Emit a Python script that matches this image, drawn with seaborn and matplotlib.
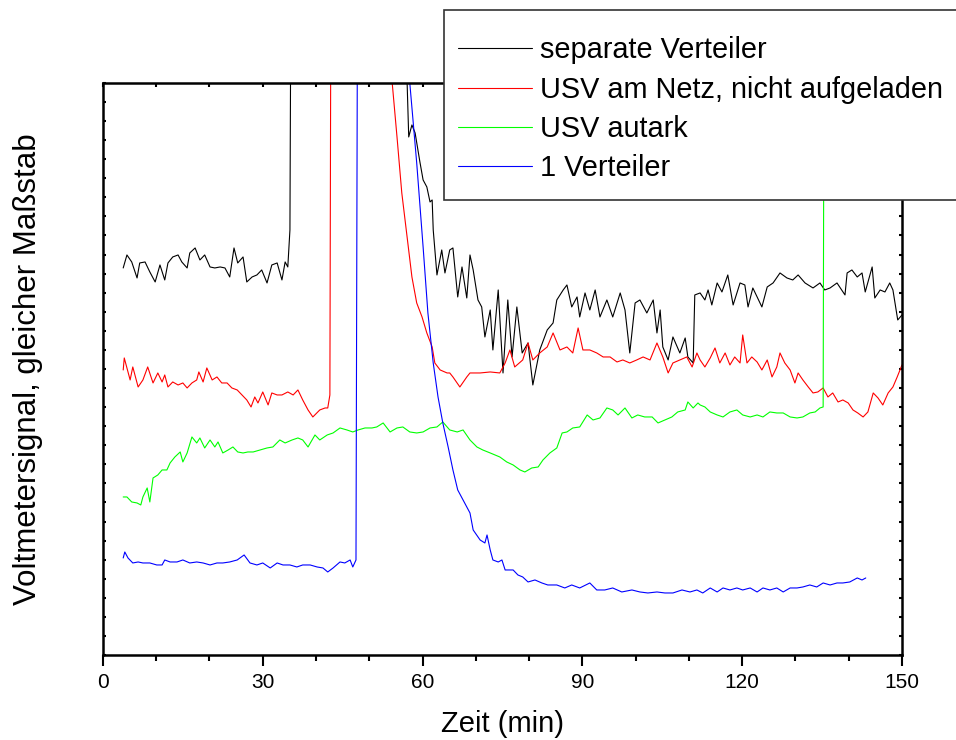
import numpy as np
import pandas as pd
import matplotlib
matplotlib.use("Agg")
import matplotlib.pyplot as plt
from matplotlib.patches import Rectangle
import seaborn as sns

# Zeit in Minuten und Voltmetersignal (willkürliche Einheiten, gleicher Maßstab)
t_sep = [3.8, 4.5, 5.4, 6.4, 6.9, 7.9, 8.8, 9.8, 10.7, 11.6, 12.2, 13.1, 14.1, 14.8, 15.8,
         16.3, 17.3, 18.2, 19.1, 20.1, 21.0, 22.0, 22.9, 23.8, 24.6, 25.3, 26.3, 27.0, 28.0,
         28.9, 29.8, 30.8, 31.7, 32.7, 33.6, 34.2, 34.7, 35.1, 35.3, 56.9, 57.1, 57.4, 58.0,
         58.6, 59.5, 60.1, 60.8, 61.4, 61.8, 62.0, 62.7, 63.6, 64.2, 65.1, 65.7, 66.6, 67.4,
         68.3, 68.9, 69.5, 70.4, 71.1, 71.7, 72.7, 73.2, 74.2, 75.1, 76.0, 76.8, 77.7, 78.7,
         79.8, 80.7, 82.0, 83.4, 84.5, 85.2, 86.4, 87.1, 88.0, 89.0, 89.5, 90.5, 91.4, 92.4,
         93.3, 94.6, 95.7, 97.1, 98.0, 98.9, 99.9, 100.8, 102.1, 103.3, 104.0, 104.6, 105.1,
         106.1, 107.0, 108.3, 109.3, 109.8, 110.8, 111.1, 112.1, 113.0, 113.6, 114.3, 115.3,
         116.2, 117.3, 118.3, 119.6, 120.5, 121.1, 122.0, 123.7, 124.7, 125.8, 127.1, 128.4,
         129.5, 130.5, 131.8, 133.3, 134.6, 135.5, 136.5, 137.8, 139.3, 139.7, 140.6, 141.6,
         142.5, 143.1, 144.4, 144.9, 145.9, 146.8, 147.7, 148.3, 149.2, 150.0]
v_sep = [387, 400, 393, 377, 392, 393, 383, 373, 390, 375, 392, 398, 400, 393, 387,
         402, 407, 395, 400, 388, 387, 388, 387, 378, 407, 392, 398, 373, 378,
         380, 385, 372, 390, 392, 375, 393, 388, 425, 700, 700, 572, 518, 530,
         522, 493, 475, 468, 453, 455, 425, 380, 405, 382, 405, 407, 358, 388,
         357, 400, 385, 355, 348, 318, 345, 305, 365, 282, 355, 298, 348, 302,
         312, 270, 305, 325, 332, 355, 365, 370, 348, 358, 338, 362, 345, 365,
         338, 355, 338, 362, 345, 302, 352, 355, 342, 355, 322, 345, 308,
         295, 318, 302, 317, 298, 292, 360, 362, 355, 365, 350, 372,
         363, 380, 350, 372, 370, 348, 367, 348, 368, 372, 382, 377,
         375, 380, 372, 367, 372, 365, 367, 372, 360, 382, 385, 378,
         382, 363, 388, 357, 365, 363, 372, 365, 335, 340]

t_netz = [3.8, 4.0, 4.5, 5.1, 5.6, 6.6, 7.5, 8.4, 9.4, 10.3, 11.1, 11.6, 12.2, 13.1, 14.1,
          15.0, 15.8, 16.7, 17.6, 18.0, 18.8, 19.5, 20.5, 21.4, 22.3, 23.3, 24.2, 25.2, 26.1,
          27.0, 27.8, 28.5, 29.1, 30.0, 31.0, 31.7, 32.7, 33.6, 34.7, 35.7, 36.6, 37.5, 38.5,
          39.4, 40.7, 41.7, 42.2, 42.6, 42.8, 54.1, 54.3, 55.2, 56.1, 57.1, 58.0, 58.9, 59.9,
          60.8, 61.8, 62.3, 63.3, 64.6, 65.1, 65.7, 67.0, 68.3, 68.9, 70.8, 72.7, 74.5, 75.5,
          76.4, 77.3, 78.8, 79.8, 80.7, 82.0, 83.4, 84.5, 85.8, 87.1, 88.2, 89.2, 90.1, 91.4,
          92.7, 93.9, 95.2, 96.5, 97.6, 98.9, 100.2, 101.4, 102.7, 104.0, 105.1, 106.1, 107.0,
          108.3, 109.6, 110.6, 111.5, 112.1, 113.0, 114.0, 114.9, 115.8, 116.8, 117.7, 118.6,
          119.6, 120.1, 120.9, 121.8, 122.8, 123.7, 124.7, 125.6, 126.5, 127.1, 128.0, 129.0,
          129.9, 130.5, 131.4, 132.4, 133.3, 134.2, 135.2, 136.1, 137.0, 138.0, 138.9, 139.9,
          140.8, 141.7, 142.7, 143.6, 144.6, 145.5, 146.4, 147.4, 148.3, 149.1, 150.0]
v_netz = [285, 297, 287, 275, 288, 268, 275, 288, 272, 282, 273, 280, 268, 273, 270,
          272, 267, 272, 275, 283, 273, 287, 275, 278, 272, 272, 267, 265, 260,
          255, 248, 258, 252, 263, 250, 262, 260, 260, 263, 260, 265, 255, 245,
          238, 245, 247, 247, 260, 700, 700, 572, 518, 462, 418, 378, 352, 338,
          322, 308, 292, 285, 282, 282, 278, 268, 278, 282, 282, 283, 282, 292,
          305, 288, 295, 312, 295, 302, 308, 322, 305, 308, 302, 327, 305, 305,
          302, 298, 298, 293, 295, 292, 295, 298, 295, 312, 298, 282, 292,
          295, 298, 288, 302, 295, 288, 297, 307, 292, 302, 290, 298,
          292, 320, 292, 298, 293, 285, 295, 278, 288, 302, 292, 285,
          272, 282, 275, 268, 262, 263, 267, 258, 262, 253, 255, 252,
          245, 242, 238, 243, 262, 257, 250, 262, 268, 278, 290]

t_autark = [3.8, 4.5, 5.4, 6.4, 7.1, 7.5, 8.3, 8.8, 9.4, 10.3, 11.1, 12.0, 12.6, 13.5, 14.5,
            15.0, 15.8, 16.7, 17.6, 18.2, 19.1, 20.1, 21.0, 21.6, 22.5, 23.5, 24.4, 25.3,
            26.3, 27.2, 28.2, 29.5, 30.8, 31.9, 33.2, 34.2, 35.5, 36.6, 37.5, 38.5, 39.8,
            40.7, 42.1, 43.2, 44.5, 45.8, 46.9, 47.9, 49.2, 50.5, 51.4, 52.6, 53.9, 55.2,
            56.3, 57.6, 58.9, 60.1, 61.4, 62.7, 63.8, 65.1, 66.5, 67.6, 68.9, 70.2, 71.3,
            72.7, 74.5, 75.8, 77.0, 78.3, 79.2, 80.5, 81.7, 82.6, 83.9, 85.2, 86.2, 87.1,
            88.2, 89.5, 90.9, 92.0, 93.3, 94.6, 95.7, 96.7, 98.0, 99.3, 100.4, 101.7, 103.1,
            104.2, 105.5, 106.8, 107.9, 109.3, 109.8, 110.8, 111.7, 112.1, 113.0, 114.0,
            115.3, 116.4, 117.7, 119.0, 120.1, 121.5, 122.8, 123.9, 125.2, 126.5, 127.7,
            129.0, 130.3, 131.4, 132.7, 133.7, 134.6, 135.2, 135.4]
v_autark = [158, 158, 153, 152, 150, 158, 167, 153, 177, 180, 185, 185, 192, 198, 203,
            193, 202, 218, 212, 217, 207, 215, 208, 213, 202, 205, 208, 203,
            202, 203, 203, 205, 207, 208, 215, 212, 215, 217, 215, 208, 220,
            215, 220, 222, 227, 225, 223, 225, 227, 227, 228, 232, 223, 227,
            228, 223, 222, 223, 227, 228, 233, 225, 223, 225, 215, 208, 205,
            202, 198, 193, 190, 185, 183, 187, 188, 195, 202, 207, 222, 223,
            227, 228, 240, 235, 237, 247, 245, 240, 247, 237, 240, 238, 238,
            232, 235, 238, 243, 245, 253, 247, 252, 250, 248, 243,
            240, 238, 243, 245, 240, 238, 240, 238, 243, 242, 242,
            238, 237, 238, 242, 243, 247, 248, 700]

t_eins = [3.8, 4.1, 4.7, 5.6, 6.6, 7.5, 8.8, 10.1, 11.1, 11.6, 12.6, 13.9, 15.0, 16.3, 17.6,
          18.8, 20.1, 21.4, 22.5, 23.8, 25.2, 26.5, 27.6, 28.9, 30.0, 31.4, 32.7, 33.8, 35.1,
          36.4, 37.5, 38.9, 40.2, 41.3, 42.2, 43.2, 44.5, 45.4, 46.4, 46.9, 47.5, 47.8, 57.3,
          57.6, 58.9, 60.1, 61.0, 62.0, 62.9, 63.8, 64.8, 65.7, 66.6, 67.6, 68.9, 69.5, 70.8,
          71.7, 72.1, 72.7, 73.2, 74.2, 74.9, 75.5, 76.4, 77.0, 77.9, 78.8, 79.8, 81.1, 82.4,
          83.5, 85.2, 86.7, 88.0, 89.5, 91.4, 92.7, 94.2, 95.7, 97.4, 99.3, 100.8, 102.3,
          104.0, 105.5, 107.0, 108.7, 110.2, 111.5, 112.6, 114.0, 115.3, 116.4, 117.7, 119.0,
          120.1, 121.5, 122.8, 123.9, 125.2, 126.5, 127.7, 129.0, 130.3, 131.4, 132.7, 134.0,
          135.2, 136.5, 137.8, 138.9, 140.2, 141.6, 142.5, 143.2]
v_eins = [97, 103, 97, 92, 93, 92, 92, 90, 90, 95, 93, 93, 95, 92, 93,
          92, 90, 92, 92, 93, 95, 100, 92, 90, 92, 87, 92, 90, 90,
          88, 90, 90, 88, 87, 83, 87, 93, 92, 95, 88, 95, 700, 700,
          572, 492, 408, 342, 292, 258, 232, 208, 185, 165, 155, 142, 125, 115,
          112, 120, 105, 95, 93, 95, 85, 85, 85, 80, 78, 73, 75, 72,
          70, 70, 67, 70, 67, 72, 65, 65, 67, 63, 65, 63, 62,
          63, 62, 62, 65, 63, 65, 62, 67, 63, 67, 65, 67,
          65, 67, 63, 67, 65, 67, 63, 67, 67, 68, 70, 68,
          72, 70, 72, 72, 73, 77, 75, 77]

labels = ["separate Verteiler", "USV am Netz, nicht aufgeladen", "USV autark", "1 Verteiler"]
colors = ["#000000", "#ff0000", "#00ff00", "#0000ff"]
x_ticks = [0, 30, 60, 90, 120, 150]

sns.set_style("white")
plt.rcParams["font.family"] = ["Liberation Sans", "DejaVu Sans"]
plt.rcParams["text.color"] = "black"
plt.rcParams["axes.labelcolor"] = "black"
plt.rcParams["xtick.color"] = "black"
plt.rcParams["ytick.color"] = "black"

fig = plt.figure(figsize=(9.56, 7.4), dpi=100)
ax = fig.add_axes([0.1077, 0.1149, 0.8358, 0.7730])

series = [(t_sep, v_sep), (t_netz, v_netz), (t_autark, v_autark), (t_eins, v_eins)]
for (t, v), lab, col in zip(series, labels, colors):
    df = pd.DataFrame({"t": t, "v": v})
    sns.lineplot(data=df, x="t", y="v", ax=ax, color=col, linewidth=0.8,
                 sort=False, estimator=None, label=lab, legend=False)

ax.set_xlim(0, 150)
ax.set_ylim(0, 572)
ax.set_xticks(x_ticks)
ax.set_xticks(np.arange(0, 151, 10), minor=True)
ax.set_yticks(np.linspace(0, 572, 31))
ax.set_yticklabels([])

for s in ax.spines.values():
    s.set_visible(True)
    s.set_linewidth(1.8)
    s.set_color("black")

ax.tick_params(axis="x", which="major", direction="out", length=8, width=1.5,
               labelsize=15, pad=5, bottom=True, top=True, labelcolor="black")
ax.tick_params(axis="x", which="minor", direction="out", length=4, width=1.5,
               bottom=True, top=True)
ax.tick_params(axis="y", which="major", direction="in", length=2.5, width=1.5,
               left=True, right=True)

# short marks on the top spine, pointing into the plot
for tick in ax.xaxis.get_major_ticks() + ax.xaxis.get_minor_ticks():
    tick.tick2line.set_marker(3)
    tick.tick2line.set_markersize(3)

ax.set_xlabel("Zeit (min)", fontsize=21, labelpad=13, color="black")
ax.set_ylabel("Voltmetersignal, gleicher Maßstab", fontsize=22.5, labelpad=40, color="black")

# legend box: white panel with dark frame, overlapping the top edge of the axes
frame = Rectangle((0.4644, 0.7297), 0.56, 0.2568, transform=fig.transFigure,
                  facecolor="white", edgecolor="#333333", linewidth=1.2, zorder=4)
fig.add_artist(frame)
handles = [plt.Line2D([], [], color=c, linewidth=0.8) for c in colors]
leg = fig.legend(handles, labels, loc="upper left", bbox_to_anchor=(0.4791, 0.9508),
                 bbox_transform=fig.transFigure, borderaxespad=0, borderpad=0,
                 fontsize=20.8, handlelength=2.55, handletextpad=0.28,
                 labelspacing=0.39, frameon=False, labelcolor="black")
leg.set_zorder(5)

fig.savefig("out.png", dpi=100, facecolor="white")
